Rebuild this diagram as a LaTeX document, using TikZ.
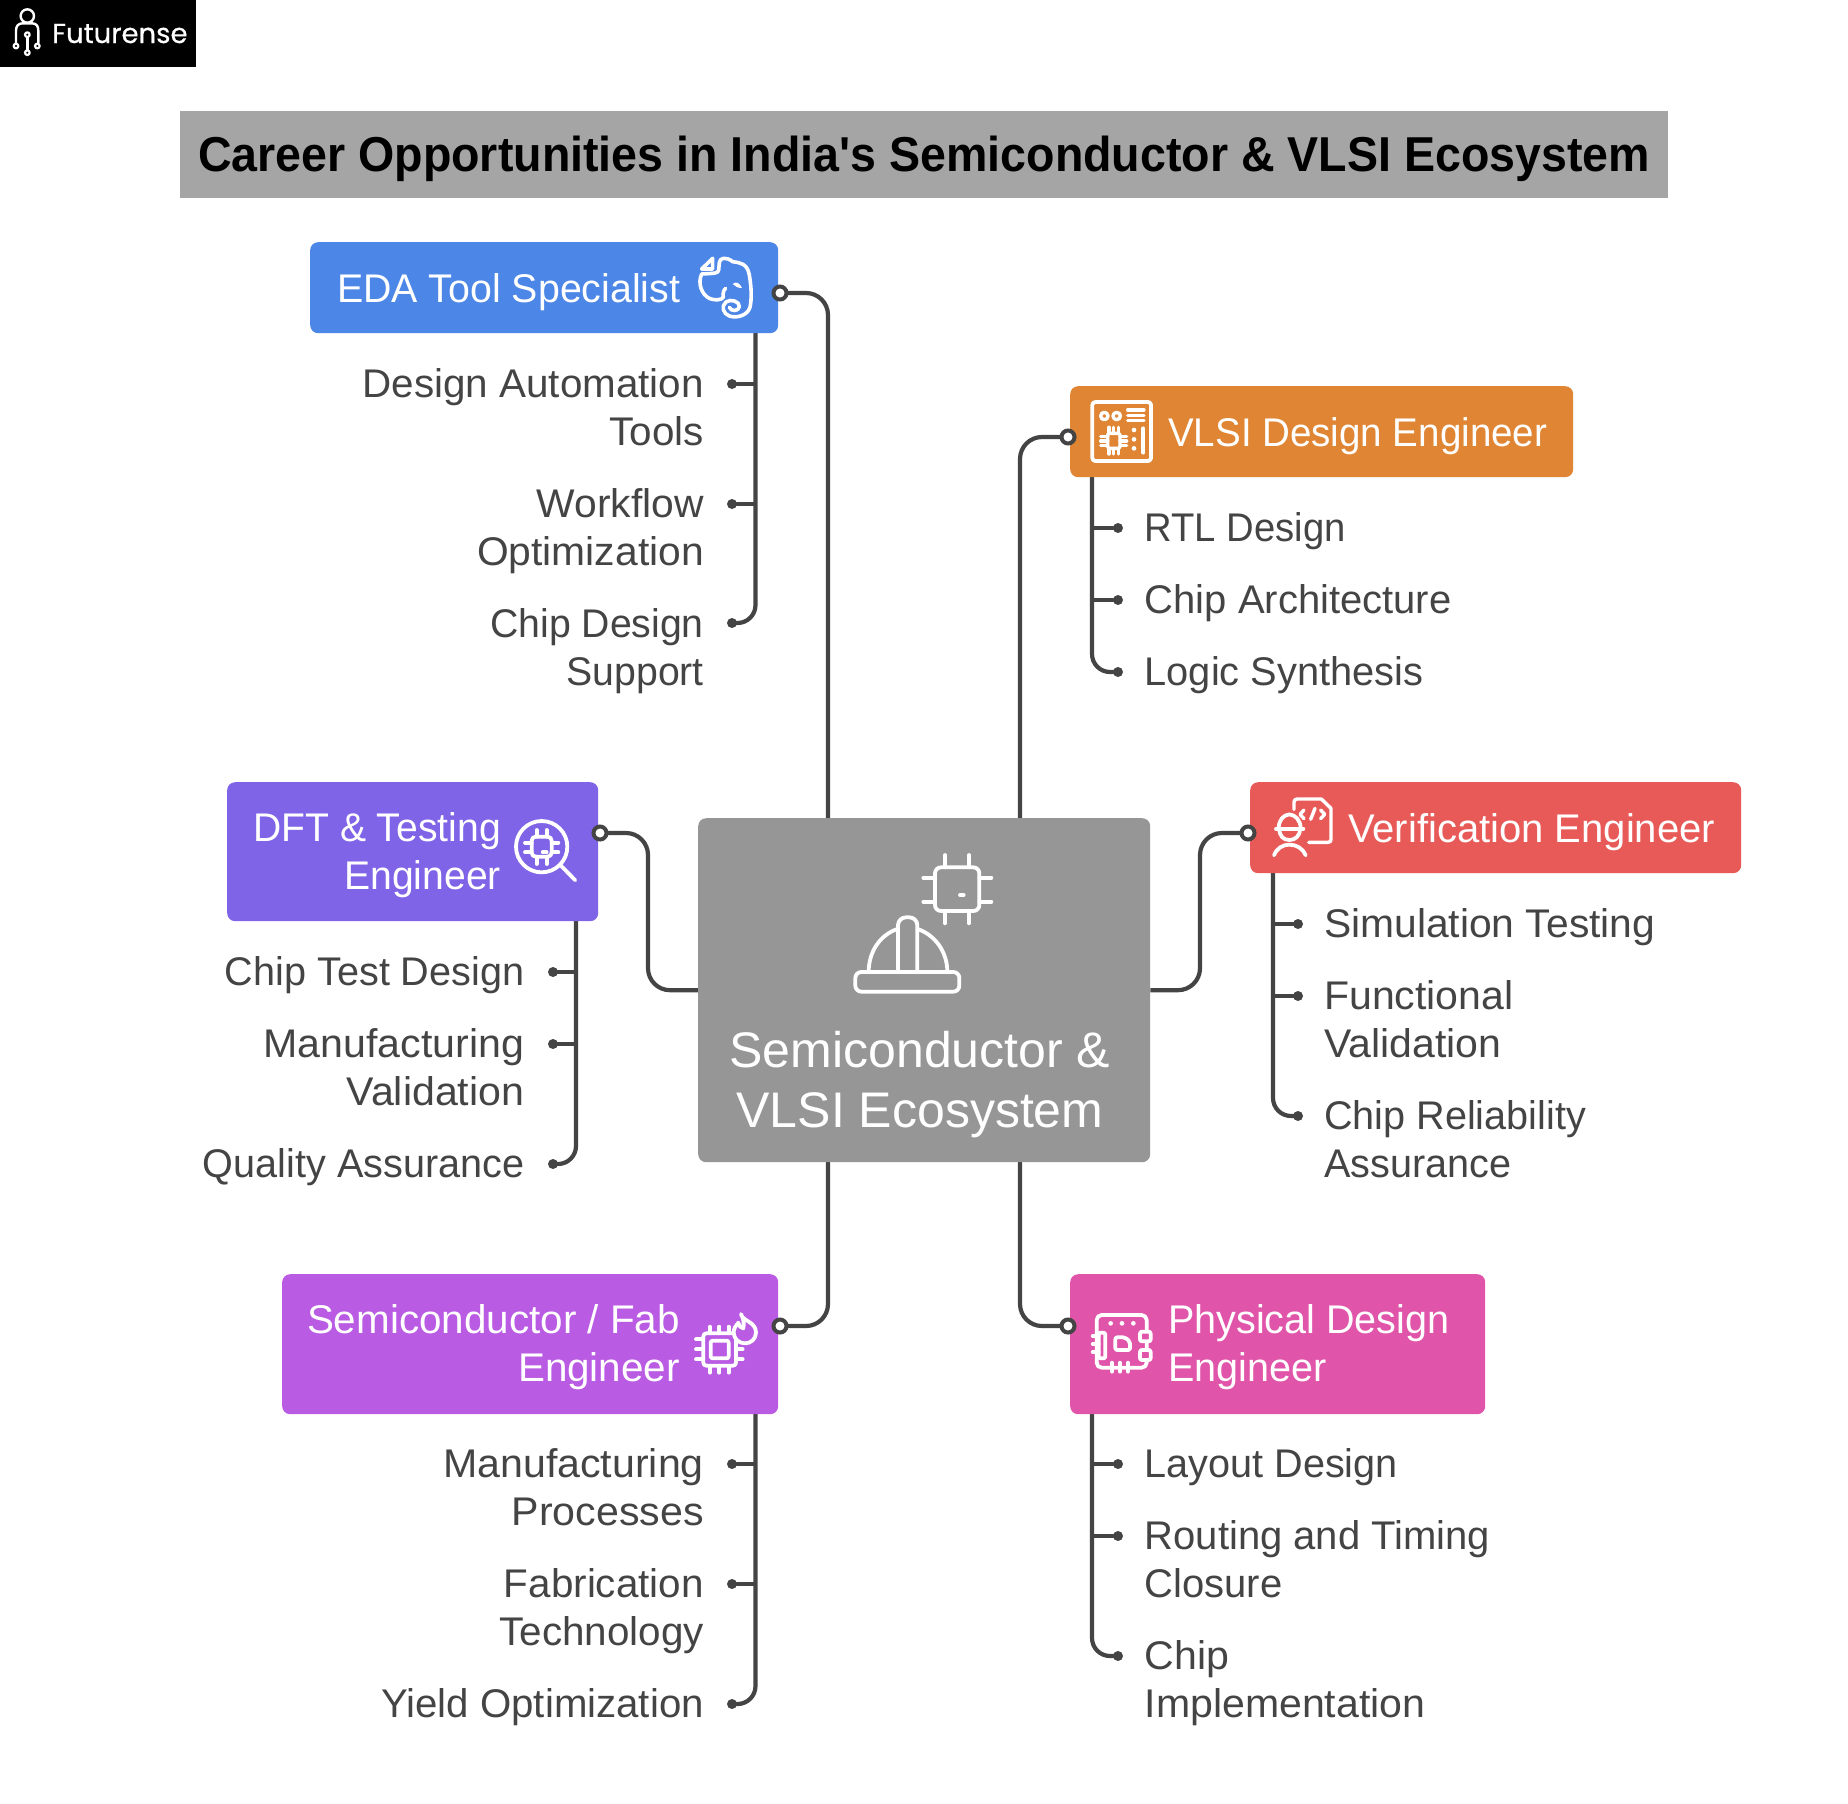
\documentclass[tikz,border=0pt]{standalone}
\usepackage{fontspec}
\usetikzlibrary{backgrounds}
\setmainfont{Liberation Sans}
\newfontfamily\logofont[FakeBold=0.5]{Poppins}
\definecolor{inkc}{HTML}{444444}
\definecolor{titlec}{HTML}{A5A5A5}
\definecolor{hubc}{HTML}{969696}
\definecolor{edac}{HTML}{4C86E6}
\definecolor{vlsic}{HTML}{E08533}
\definecolor{verc}{HTML}{E85A58}
\definecolor{dftc}{HTML}{8064E8}
\definecolor{semic}{HTML}{B95BE3}
\definecolor{physc}{HTML}{E055A9}
\tikzset{
  box/.style={draw=none,rounded corners=8pt,inner sep=0pt,anchor=north west},
  conn/.style={draw=inkc,line width=4.2pt,rounded corners=22pt},
  stem/.style={draw=inkc,line width=4.2pt,rounded corners=18pt},
  twig/.style={draw=inkc,line width=4.2pt},
  port/.style={circle,draw=inkc,fill=white,line width=4pt,minimum size=13pt,inner sep=0pt},
  leafdot/.style={circle,fill=inkc,minimum size=10pt,inner sep=0pt},
  leafR/.style={anchor=base east,align=right,inner sep=0pt,text=inkc,font=\fontsize{40}{48}\selectfont},
  leafL/.style={anchor=base west,align=left,inner sep=0pt,text=inkc,font=\fontsize{40}{48}\selectfont},
  headR/.style={anchor=base east,align=right,inner sep=0pt,text=white,font=\fontsize{40}{48}\selectfont},
  headL/.style={anchor=base west,align=left,inner sep=0pt,text=white,font=\fontsize{40}{48}\selectfont},
  icon/.style={draw=white,line width=3.8pt,line cap=round,line join=round},
  iconat/.style={shift={#1},scale=1/3}
}
\begin{document}
\begin{tikzpicture}[x=1pt,y=-1pt]
\useasboundingbox (0,0) rectangle (1848,1804);

% logo
\node[box,fill=black,rounded corners=0pt,minimum width=196pt,minimum height=67pt] (logo) at (0,0) {};
\node[anchor=base west,inner sep=0pt,text=white,font=\logofont\fontsize{27.5}{32}\selectfont] (logotext) at (52,43) {Futurense};
\begin{scope}[iconat={(0,0)}]
  \draw[icon,line width=2.4pt] (82,48) circle[radius=20];
  \draw[icon,line width=2.4pt] (48,128) -- (48,92) .. controls (48,78) and (55,70) .. (68,70) -- (96,70) .. controls (109,70) and (115,78) .. (115,92) -- (115,128);
  \draw[icon,line width=2.4pt] (82,112) -- (82,150);
  \foreach \p in {(48,138),(112,138),(82,104),(82,158)} \draw[icon,line width=2.2pt] \p circle[radius=7];
\end{scope}

% title
\node[box,fill=titlec,rounded corners=0pt,minimum width=1488pt,minimum height=87pt] (title) at (180,111) {};
\node[inner sep=0pt,xscale=.95,font=\bfseries\fontsize{49}{58}\selectfont,text=black] (titletext) at (924,159) {Career Opportunities in India\textquotesingle s Semiconductor \& VLSI Ecosystem};

% boxes
\node[box,fill=hubc,minimum width=452pt,minimum height=344pt] (hub) at (698,818) {};
\node[box,fill=edac,minimum width=468pt,minimum height=91pt] (eda) at (310,242) {};
\node[box,fill=vlsic,minimum width=503pt,minimum height=91pt] (vlsi) at (1070,386) {};
\node[box,fill=verc,minimum width=491pt,minimum height=91pt] (ver) at (1250,782) {};
\node[box,fill=dftc,minimum width=371pt,minimum height=139pt] (dft) at (227,782) {};
\node[box,fill=semic,minimum width=496pt,minimum height=140pt] (semi) at (282,1274) {};
\node[box,fill=physc,minimum width=415pt,minimum height=140pt] (phys) at (1070,1274) {};

% ports and anchors
\node[port] (edaP) at (780,293) {};
\node[port] (vlsiP) at (1068,437) {};
\node[port] (verP) at (1248,833) {};
\node[port] (dftP) at (600,833) {};
\node[port] (semiP) at (780,1326) {};
\node[port] (physP) at (1068,1326) {};
\coordinate (hubTL) at (828,818);
\coordinate (hubTR) at (1020,818);
\coordinate (hubBL) at (828,1162);
\coordinate (hubBR) at (1020,1162);
\coordinate (verJ) at (1200,900);
\coordinate (dftJ) at (648,900);

% leaf dots and stems
\node[leafdot] (e1) at (732,384) {};
\node[leafdot] (e2) at (732,504) {};
\node[leafdot] (e3) at (732,623) {};
\coordinate (eS) at (755.5,333);
\node[leafdot] (v1) at (1118,528) {};
\node[leafdot] (v2) at (1118,600) {};
\node[leafdot] (v3) at (1118,672) {};
\coordinate (vS) at (1092,477);
\node[leafdot] (r1) at (1298,924) {};
\node[leafdot] (r2) at (1298,996) {};
\node[leafdot] (r3) at (1298,1116) {};
\coordinate (rS) at (1273,873);
\node[leafdot] (d1) at (553,972) {};
\node[leafdot] (d2) at (553,1044) {};
\node[leafdot] (d3) at (553,1164) {};
\coordinate (dS) at (576,921);
\node[leafdot] (s1) at (732,1464) {};
\node[leafdot] (s2) at (732,1584) {};
\node[leafdot] (s3) at (732,1704) {};
\coordinate (sS) at (755.5,1414);
\node[leafdot] (p1) at (1118,1464) {};
\node[leafdot] (p2) at (1118,1536) {};
\node[leafdot] (p3) at (1118,1656) {};
\coordinate (pS) at (1092,1414);

\begin{pgfonlayer}{background}
\fill[white] (0,0) rectangle (1848,1804);
\draw[conn] (edaP.center) -| (hubTL);
\draw[conn] (vlsiP.center) -| (hubTR);
\draw[conn] (semiP.center) -| (hubBL);
\draw[conn] (physP.center) -| (hubBR);
\draw[conn] (verP.center) -| (verJ) |- (hub.east);
\draw[conn] (dftP.center) -| (dftJ) |- (hub.west);
\foreach \st/\a/\b/\c in {eS/e1/e2/e3,vS/v1/v2/v3,rS/r1/r2/r3,dS/d1/d2/d3,sS/s1/s2/s3,pS/p1/p2/p3} {
  \draw[stem] (\st) |- (\c.center);
  \draw[twig] (\a.center) -- (\a -| \st);
  \draw[twig] (\b.center) -- (\b -| \st);
}
\end{pgfonlayer}

% heading texts
\node[headL,xscale=.983] (edaT) at (337,302) {EDA Tool Specialist};
\node[headL,xscale=.963] (vlsiT) at (1168,446) {VLSI Design Engineer};
\node[headL] (verT) at (1348,842) {Verification Engineer};
\node[headR,xscale=.977] (dftT) at (501,889.5) {DFT \& Testing\\Engineer};
\node[headR,xscale=1.01] (semiT) at (680,1381.5) {Semiconductor / Fab\\Engineer};
\node[headL,xscale=.988] (physT) at (1168,1381.5) {Physical Design\\Engineer};
\node[inner sep=0pt,align=center,text=white,font=\fontsize{50}{60}\selectfont] (hubT) at (920,1084.5) {Semiconductor \&\\VLSI Ecosystem};

% leaf texts
\node[leafR,xscale=1.01] (et1) at (704,445.5) {Design Automation\\Tools};
\node[leafR,xscale=1.02] (et2) at (704,565.5) {Workflow\\Optimization};
\node[leafR,xscale=.98] (et3) at (704,685.5) {Chip Design\\Support};
\node[leafL,xscale=.955] (vt1) at (1144.5,541.5) {RTL Design};
\node[leafL] (vt2) at (1144.5,613.5) {Chip Architecture};
\node[leafL,xscale=.995] (vt3) at (1144.5,685.5) {Logic Synthesis};
\node[leafL,xscale=1.02] (rt1) at (1324,937.5) {Simulation Testing};
\node[leafL,xscale=1.025] (rt2) at (1324,1057.5) {Functional\\Validation};
\node[leafL,xscale=.99] (rt3) at (1324,1177.5) {Chip Reliability\\Assurance};
\node[leafR,xscale=.99] (dt1) at (524.5,985.5) {Chip Test Design};
\node[leafR,xscale=1.028] (dt2) at (524.5,1105.5) {Manufacturing\\Validation};
\node[leafR,xscale=.99] (dt3) at (524.5,1177.5) {Quality Assurance};
\node[leafR,xscale=1.028] (st1) at (704,1525.5) {Manufacturing\\Processes};
\node[leafR,xscale=1.01] (st2) at (704,1645.5) {Fabrication\\Technology};
\node[leafR,xscale=1.005] (st3) at (704,1717.5) {Yield Optimization};
\node[leafL,xscale=.99] (pt1) at (1144.5,1477.5) {Layout Design};
\node[leafL] (pt2) at (1144.5,1597.5) {Routing and Timing\\Closure};
\node[leafL,xscale=1.026] (pt3) at (1144.5,1717.5) {Chip\\Implementation};

% hub icon
\begin{scope}[iconat={(820,830)}]
  \draw[icon,rounded corners=6pt] (345,112) rectangle (478,243);
  \foreach \a in {375,447} {\draw[icon] (\a,75) -- (\a,112); \draw[icon] (\a,243) -- (\a,280);}
  \foreach \a in {143,215} {\draw[icon] (310,\a) -- (345,\a); \draw[icon] (478,\a) -- (514,\a);}
  \draw[icon] (420,195) -- (431,195);
  \draw[icon,rounded corners=6pt] (106,426) rectangle (418,485);
  \draw[icon] (146,426) .. controls (146,365) and (180,315) .. (232,297);
  \draw[icon] (382,426) .. controls (382,365) and (345,315) .. (293,297);
  \draw[icon,rounded corners=8pt] (234,426) -- (234,262) -- (292,262) -- (292,426);
\end{scope}

% EDA icon
\begin{scope}[iconat={(660,220)}]
  \draw[icon,line width=3.6pt] (125,147) -- (158,115) -- (158,147) -- cycle;
  \draw[icon,line width=3.6pt] (178,128) .. controls (178,112) and (200,110) .. (218,125) .. controls (240,128) and (262,130) .. (268,165) .. controls (275,205) and (275,240) .. (270,262) .. controls (262,288) and (228,295) .. (208,288) .. controls (190,282) and (182,258) .. (198,246) .. controls (212,235) and (240,245) .. (238,260) .. controls (236,275) and (212,275) .. (208,262);
  \draw[icon,line width=3.6pt] (178,128) -- (176,150) .. controls (175,160) and (165,160) .. (125,162) .. controls (112,190) and (125,225) .. (150,236) .. controls (165,242) and (185,240) .. (190,232) .. controls (188,222) and (190,210) .. (197,205);
  \fill[white] (218,192) .. controls (228,182) and (240,190) .. (246,204) .. controls (235,204) and (225,200) .. (218,192) -- cycle;
\end{scope}

% VLSI icon
\begin{scope}[iconat={(1060,380)}]
  \draw[icon,rounded corners=3pt] (97,66) rectangle (273,243);
  \draw[icon,line width=3.4pt] (133,108) circle[radius=11];
  \draw[icon,line width=3.4pt] (170,108) circle[radius=11];
  \foreach \a in {90,106,122} \draw[icon,line width=3.4pt] (203,\a) -- (252,\a);
  \draw[icon,line width=3.4pt,rounded corners=2pt] (143,160) rectangle (180,205);
  \foreach \a in {147,161,175} {\draw[icon,line width=3.4pt] (\a,142) -- (\a,160); \draw[icon,line width=3.4pt] (\a,205) -- (\a,222);}
  \foreach \a in {170,183,197} {\draw[icon,line width=3.4pt] (122,\a) -- (143,\a); \draw[icon,line width=3.4pt] (180,\a) -- (200,\a);}
  \foreach \a in {150,178,205} \fill[white] (222,\a) circle[radius=7];
  \draw[icon] (250,145) -- (250,218);
\end{scope}

% Verification icon
\begin{scope}[iconat={(1250,780)}]
  \draw[icon,line width=3.4pt] (132,88) -- (132,66) .. controls (132,60) and (136,57) .. (142,57) -- (214,57) -- (243,85) -- (243,178) .. controls (243,184) and (240,187) .. (234,187) -- (176,187);
  \draw[icon,line width=3.4pt] (162,90) -- (150,103) -- (162,116);
  \draw[icon,line width=3.4pt] (195,85) -- (182,118);
  \draw[icon,line width=3.4pt] (212,90) -- (224,103) -- (212,116);
  \draw[icon] (78,146) -- (160,146);
  \draw[icon] (86,146) .. controls (86,120) and (100,105) .. (118,103) .. controls (136,105) and (152,120) .. (152,146);
  \draw[icon] (88,146) .. controls (88,168) and (100,180) .. (118,180) .. controls (136,180) and (150,168) .. (150,146);
  \draw[icon] (72,226) .. controls (80,205) and (98,194) .. (118,194) .. controls (140,194) and (158,205) .. (167,226);
\end{scope}

% DFT icon
\begin{scope}[iconat={(500,800)}]
  \draw[icon] (125,140) circle[radius=77];
  \draw[icon] (181,195) -- (226,241);
  \draw[icon,rounded corners=4pt] (95,110) rectangle (155,170);
  \foreach \a in {110,140} {\draw[icon] (\a,90) -- (\a,110); \draw[icon] (\a,170) -- (\a,192);}
  \foreach \a in {128,157} {\draw[icon] (75,\a) -- (95,\a); \draw[icon] (155,\a) -- (175,\a);}
  \draw[icon] (128,157) -- (140,157);
\end{scope}

% Semi icon
\begin{scope}[iconat={(680,1300)}]
  \draw[icon,rounded corners=3pt] (70,100) rectangle (168,197);
  \draw[icon,rounded corners=2pt] (92,122) rectangle (146,175);
  \foreach \a in {90,118,146} {\draw[icon] (\a,80) -- (\a,100); \draw[icon] (\a,197) -- (\a,218);}
  \foreach \a in {118,148,178} {\draw[icon] (48,\a) -- (70,\a); \draw[icon] (168,\a) -- (188,\a);}
  \filldraw[icon,fill=semic] (183,42) .. controls (185,62) and (228,65) .. (228,97) .. controls (228,118) and (212,130) .. (195,130) .. controls (175,130) and (161,115) .. (161,97) .. controls (161,85) and (168,76) .. (175,68) .. controls (178,78) and (183,85) .. (190,85) .. controls (193,70) and (190,55) .. (183,42) -- cycle;
\end{scope}

% Physical icon
\begin{scope}[iconat={(1080,1300)}]
  \draw[icon,rounded corners=5pt] (50,45) rectangle (200,203);
  \foreach \a in {92,126,160} \fill[white] (\a,70) circle[radius=7];
  \filldraw[icon,fill=physc,rounded corners=2pt] (56,98) rectangle (76,175);
  \foreach \a in {108,132,156} \draw[icon] (38,\a) -- (56,\a);
  \filldraw[icon,fill=physc,rounded corners=2pt] (180,95) rectangle (212,124);
  \filldraw[icon,fill=physc,rounded corners=2pt] (180,150) rectangle (212,180);
  \draw[icon,rounded corners=2pt] (106,112) -- (135,112) -- (150,125) -- (150,150) -- (106,150) -- cycle;
  \foreach \a in {96,120,144} \draw[icon] (\a,188) -- (\a,215);
\end{scope}
\end{tikzpicture}
\end{document}
